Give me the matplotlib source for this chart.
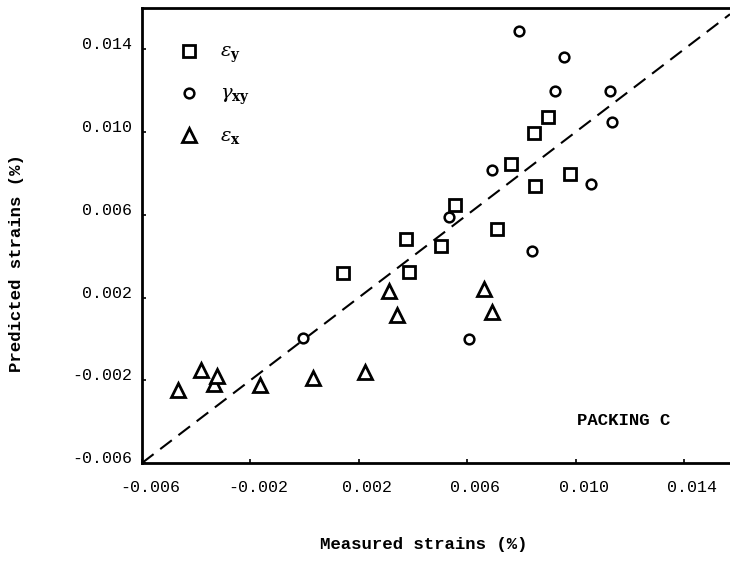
import matplotlib

matplotlib.use("Agg")
import matplotlib.pyplot as plt
from matplotlib.lines import Line2D
from matplotlib.transforms import ScaledTranslation

plt.rcParams["font.family"] = ["Liberation Mono", "DejaVu Sans Mono"]
plt.rcParams["mathtext.fontset"] = "dejavuserif"

# measured vs predicted strains (%)
eps_y_measured = [0.0090, 0.00848, 0.00763, 0.00978, 0.00852, 0.00556,
                  0.00374, 0.00504, 0.00711, 0.00385, 0.00141]
eps_y_predicted = [0.01072, 0.00995, 0.00846, 0.00798, 0.0074, 0.00648,
                   0.00484, 0.00451, 0.00533, 0.00325, 0.0032]

gam_xy_measured = [0.00793, 0.00959, 0.00926, 0.01126, 0.01133, 0.00693,
                   0.01056, 0.00533, 0.00841, 0.00607, -0.00007]
gam_xy_predicted = [0.01487, 0.01361, 0.01198, 0.01198, 0.01048, 0.00817,
                    0.00749, 0.0059, 0.00427, 0.0000, 0.00002]

eps_x_measured = [0.00311, 0.00341, 0.00663, 0.00693, -0.00467, -0.00381,
                  -0.00333, -0.00325, -0.00163, 0.0003, 0.00222]
eps_x_predicted = [0.00234, 0.00118, 0.00243, 0.00128, -0.00248, -0.00152,
                   -0.00219, -0.00180, -0.00224, -0.0019, -0.00161]

ticks = [-0.006, -0.002, 0.002, 0.006, 0.010, 0.014]
tick_labels = ["-0.006", "-0.002", "0.002", "0.006", "0.010", "0.014"]
x_range = (-0.006, 0.0157)
y_range = (-0.006, 0.0160)

fig = plt.figure(figsize=(7.3, 5.73), dpi=100)
ax = fig.add_axes([142 / 730, 110 / 573, 588 / 730, 455 / 573])

ax.plot(x_range, x_range, color="black", lw=1.5, ls=(0, (7, 4)))

ax.plot(eps_y_measured, eps_y_predicted, ls="none", marker="s", ms=8.5,
        mfc="white", mec="black", mew=2.0)
ax.plot(gam_xy_measured, gam_xy_predicted, ls="none", marker="o", ms=7,
        mfc="white", mec="black", mew=1.8)
ax.plot(eps_x_measured, eps_x_predicted, ls="none", marker="^", ms=10,
        mfc="white", mec="black", mew=2.0)

handles = [
    Line2D([], [], ls="none", marker="s", ms=8.5, mfc="white", mec="black", mew=2.0),
    Line2D([], [], ls="none", marker="o", ms=7, mfc="white", mec="black", mew=1.8),
    Line2D([], [], ls="none", marker="^", ms=10, mfc="white", mec="black", mew=2.0),
]
ax.legend(handles, [r"$\varepsilon_\mathbf{y}$", r"$\gamma_\mathbf{xy}$",
                    r"$\varepsilon_\mathbf{x}$"],
          loc="upper left", bbox_to_anchor=(0.03, 0.96), frameon=False,
          fontsize=14, labelspacing=1.05, handletextpad=1.0, handlelength=1.2)

ax.text(0.01178, -0.00393, "PACKING C", ha="center", va="center",
        fontsize=12.5, fontweight="bold")

ax.set_xlim(*x_range)
ax.set_ylim(*y_range)
ax.set_xticks(ticks)
ax.set_xticklabels(tick_labels)
ax.set_yticks(ticks)
ax.set_yticklabels(tick_labels)
ax.tick_params(direction="in", length=3, width=1.2, labelsize=12)
ax.tick_params(axis="x", pad=12)
ax.tick_params(axis="y", pad=7)

for lab in ax.get_xticklabels():
    lab.set_transform(lab.get_transform() + ScaledTranslation(0.08, 0, fig.dpi_scale_trans))
for lab in ax.get_yticklabels():
    lab.set_transform(lab.get_transform() + ScaledTranslation(0, 0.06, fig.dpi_scale_trans))

for side in ("left", "top", "bottom"):
    ax.spines[side].set_linewidth(2.0)
ax.spines["right"].set_visible(False)

ax.set_xlabel("Measured strains (%)", fontsize=12.5, fontweight="bold")
ax.set_ylabel("Predicted strains (%)", fontsize=12.5, fontweight="bold")
ax.xaxis.set_label_coords(0.48, -0.163)
ax.yaxis.set_label_coords(-0.200, 0.44)

fig.savefig("out.png", dpi=100, facecolor="white")
